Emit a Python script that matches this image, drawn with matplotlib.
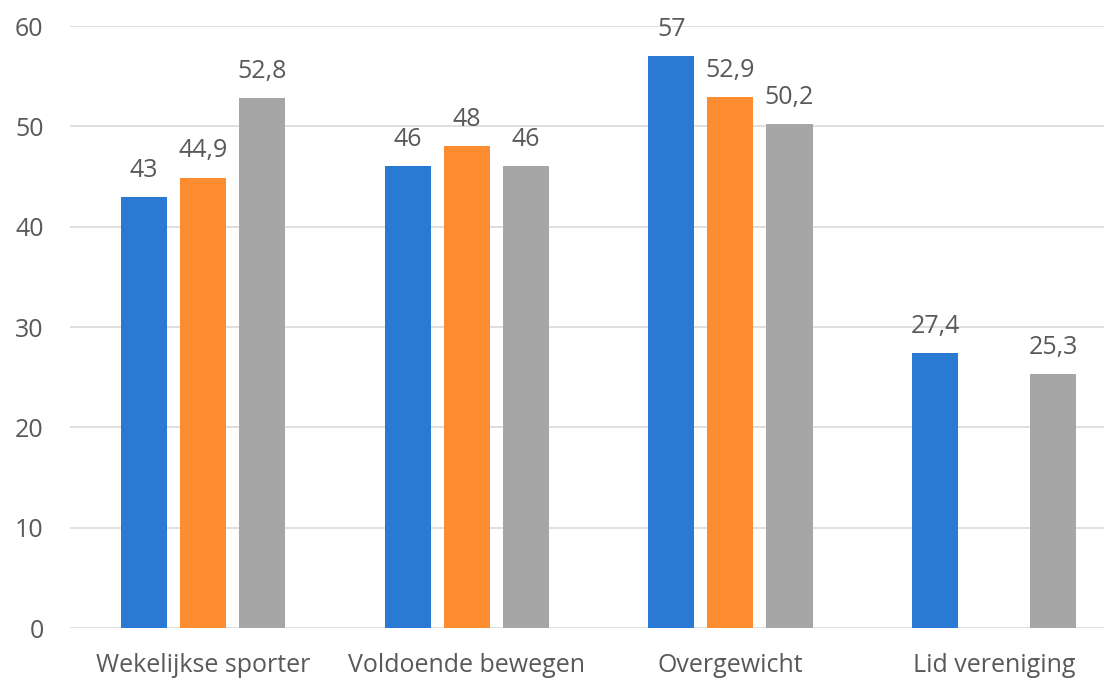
import numpy as np
import matplotlib.pyplot as plt

plt.rcParams['font.family'] = ['Open Sans', 'DejaVu Sans']

categories = ['Wekelijkse sporter', 'Voldoende bewegen', 'Overgewicht', 'Lid vereniging']
serie_1 = [43, 46, 57, 27.4]
serie_2 = [44.9, 48, 52.9, None]
serie_3 = [52.8, 46, 50.2, 25.3]
yticks = [0, 10, 20, 30, 40, 50, 60]

kleuren = ['#2a79d3', '#fd8b2f', '#a6a6a6']
tekst = '#595959'

fig = plt.figure(figsize=(11.04, 6.81), dpi=100)
ax = fig.add_axes([0.0634, 0.0778, 0.9366, 0.884])

x = np.arange(len(categories))
breedte = 0.175
stap = 0.224

for i, (serie, kleur) in enumerate(zip([serie_1, serie_2, serie_3], kleuren)):
    for xi, v in zip(x, serie):
        if v is None:
            continue
        pos = xi + (i - 1) * stap
        ax.bar(pos, v, width=breedte, color=kleur, zorder=3)
        label = ('%g' % v).replace('.', ',')
        ax.text(pos, v + 1.4, label, ha='center', va='bottom',
                fontsize=18, color=tekst)

ax.set_ylim(0, 60)
ax.set_xlim(-0.505, 3.417)
ax.set_yticks(yticks)
ax.set_xticks(x)
ax.set_xticklabels(categories, fontsize=18.5)
ax.tick_params(axis='both', length=0, labelsize=18, colors=tekst)
ax.tick_params(axis='y', pad=19)
ax.tick_params(axis='x', pad=18)
ax.yaxis.grid(True, color='#d9d9d9', linewidth=1.2, zorder=0)
for s in ax.spines.values():
    s.set_visible(False)

fig.savefig('out.png', dpi=100)
